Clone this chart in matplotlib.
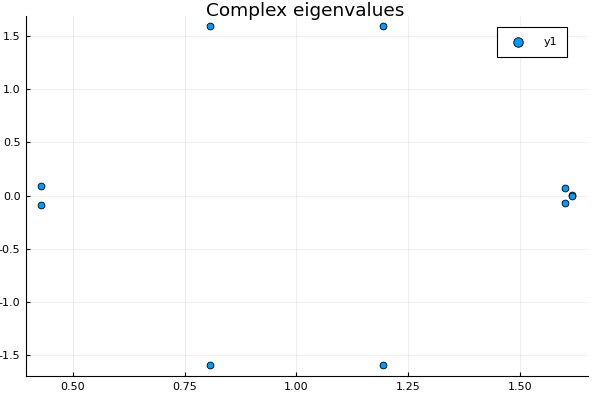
import matplotlib
matplotlib.use("Agg")
import matplotlib.pyplot as plt

re_part = [0.429, 0.429, 0.806, 0.806, 1.194, 1.194, 1.600, 1.600, 1.617, 1.617]
im_part = [0.085, -0.085, 1.598, -1.598, 1.598, -1.598, 0.068, -0.075, 0.005, -0.005]
xticks = [0.50, 0.75, 1.00, 1.25, 1.50]
yticks = [-1.5, -1.0, -0.5, 0.0, 0.5, 1.0, 1.5]

fig = plt.figure(figsize=(6, 4), dpi=100)
ax = fig.add_axes([26 / 600, 24 / 400, 562 / 600, 360 / 400])

ax.scatter(re_part, im_part, s=24, c="#009AFA", edgecolors="black",
           linewidths=0.6, label="y1", zorder=3)

ax.set_xlim(0.395, 1.652)
ax.set_ylim(-1.697, 1.688)
ax.set_xticks(xticks)
ax.set_xticklabels([f"{t:.2f}" for t in xticks])
ax.set_yticks(yticks)
ax.set_yticklabels([f"{t:.1f}" for t in yticks])
ax.tick_params(labelsize=8, length=3, width=0.8, direction="in", pad=4)
ax.grid(True, color="black", alpha=0.08, linewidth=0.6)
for side in ["top", "right"]:
    ax.spines[side].set_visible(False)

# title sits partly over the plot area, centered near the top edge
fig.text(305 / 600, 1 - 11 / 400, "Complex eigenvalues", fontsize=13.3,
         ha="center", va="center")

leg = ax.legend(loc="upper right", bbox_to_anchor=(0.963, 0.97), fontsize=8,
                fancybox=False, framealpha=1, edgecolor="black",
                markerscale=1.4, borderpad=0.9, handletextpad=1.3,
                borderaxespad=0)
leg.get_frame().set_linewidth(0.8)

fig.savefig("out.png", dpi=100)
